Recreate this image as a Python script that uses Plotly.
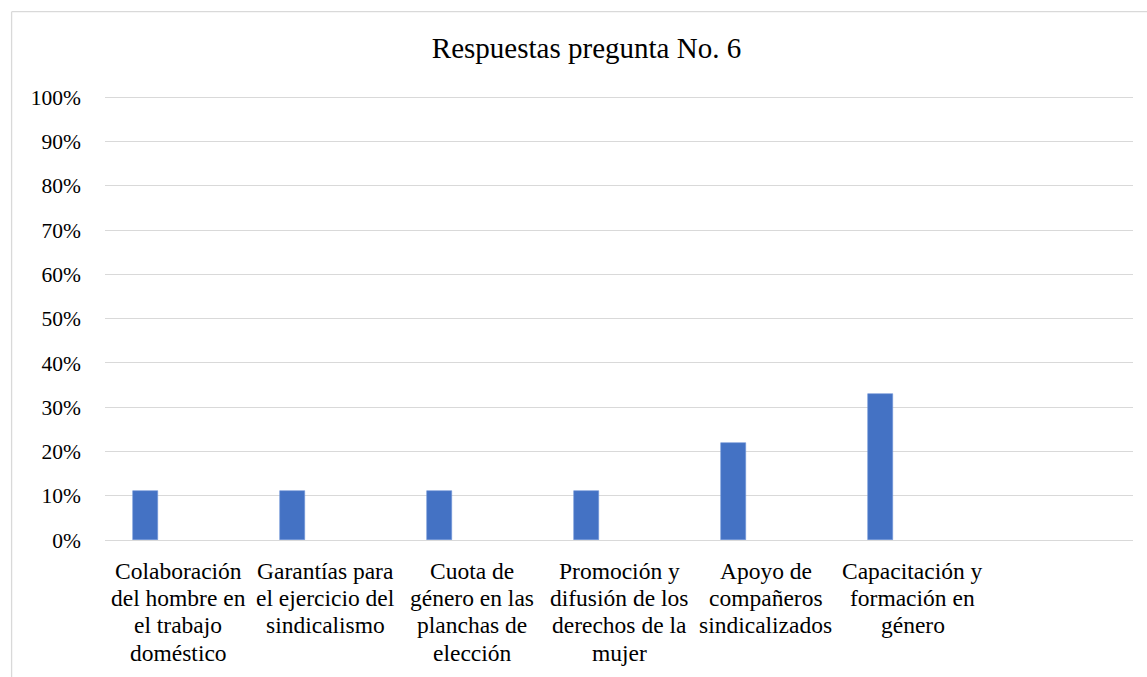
import plotly.graph_objects as go

# ---- data ----
categories = [
    "Colaboración<br>del hombre en<br>el trabajo<br>doméstico",
    "Garantías para<br>el ejercicio del<br>sindicalismo",
    "Cuota de<br>género en las<br>planchas de<br>elección",
    "Promoción y<br>difusión de los<br>derechos de la<br>mujer",
    "Apoyo de<br>compañeros<br>sindicalizados",
    "Capacitación y<br>formación en<br>género",
    " ",
]
values = [0.11, 0.11, 0.11, 0.11, 0.22, 0.33, None]
title_text = "Respuestas pregunta No. 6"
y_ticks = [0, 0.1, 0.2, 0.3, 0.4, 0.5, 0.6, 0.7, 0.8, 0.9, 1.0]

W, H = 1147, 677
L, R, T, B = 104.5, 13.5, 92.9, 136.5
pw, ph = W - L - R, H - T - B

FONT = "Liberation Serif"
GRID = "#d9d9d9"

fig = go.Figure()
fig.add_trace(go.Bar(
    x=categories, y=values,
    marker=dict(color="#4472C4", line=dict(color="#6f94d6", width=0.6)),
    width=0.17, offset=-0.306,
    showlegend=False, hoverinfo="skip",
))

annotations = []
line_gap = 27.4
for c in categories:
    for i, ln in enumerate(c.split("<br>")):
        if not ln.strip():
            continue
        annotations.append(dict(
            x=c, xref="x", y=0, yref="paper",
            text=ln, showarrow=False, xanchor="center", yanchor="middle",
            yshift=-(30.5 + i * line_gap),
            font=dict(family=FONT, size=23.5, color="#000000"),
        ))

fig.update_layout(
    width=W, height=H,
    margin=dict(l=L, r=R, t=T, b=B, pad=0),
    paper_bgcolor="white", plot_bgcolor="white",
    title=dict(text=title_text, xref="container", yref="container",
               x=586.5 / W, xanchor="center", y=1 - 48 / H, yanchor="middle",
               font=dict(family=FONT, size=29, color="#000000")),
    xaxis=dict(type="category", categoryorder="array", categoryarray=categories,
               showticklabels=False, showgrid=False, zeroline=False,
               showline=False, ticks="", range=[-0.5, len(categories) - 0.5]),
    yaxis=dict(range=[0, 1.01], tickvals=y_ticks, tickformat=".0%",
               showgrid=True, gridcolor=GRID, gridwidth=1.3,
               zeroline=True, zerolinecolor=GRID, zerolinewidth=1.3,
               showline=False, ticks="", ticklabelstandoff=23,
               tickfont=dict(family=FONT, size=21.5, color="#000000")),
    annotations=annotations,
    bargap=0,
)

# outer chart frame (cropped at right and bottom in the reference)
x0 = (11 - L) / pw
y1 = (H - B - 11.5) / ph
fig.add_shape(type="line", xref="paper", yref="paper", x0=x0, x1=(W + 5 - L) / pw,
              y0=y1, y1=y1, line=dict(color=GRID, width=1.3))
fig.add_shape(type="line", xref="paper", yref="paper", x0=x0, x1=x0,
              y0=y1, y1=-(B + 5) / ph, line=dict(color=GRID, width=1.3))

fig.write_html("out.html", config={"displayModeBar": False},
               post_script="document.body.style.margin='0';document.body.style.overflow='hidden';")
